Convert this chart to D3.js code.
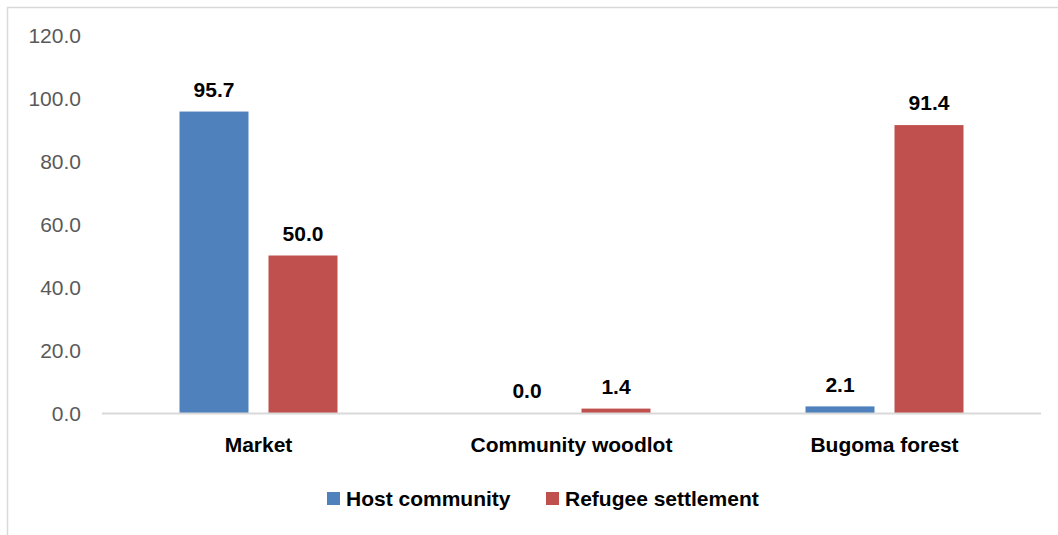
<!DOCTYPE html>
<html>
<head>
<meta charset="utf-8">
<script src="https://cdn.jsdelivr.net/npm/d3@7"></script>
<style>
  html, body { margin: 0; padding: 0; background: #fff; }
  svg { display: block; font-family: "Liberation Sans", Arial, sans-serif; }
</style>
</head>
<body>
<svg id="chart" width="1058" height="535"></svg>
<script>
// Source of fuelwood by respondent group (%)
const categories = ["Market", "Community woodlot", "Bugoma forest"];
const seriesNames = ["Host community", "Refugee settlement"];
const hostValues = [95.7, 0.0, 2.1];
const refugeeValues = [50.0, 1.4, 91.4];
const yTicks = [0, 20, 40, 60, 80, 100, 120];
const colors = ["#4F81BD", "#C0504D"];

const svg = d3.select("#chart");
const W = 1058, H = 535;

// chart frame
svg.append("rect")
  .attr("x", 7.5).attr("y", 7.5)
  .attr("width", W + 10).attr("height", H + 10)
  .attr("fill", "#fff").attr("stroke", "#d9d9d9").attr("stroke-width", 1.5);

const plot = { left: 102, right: 1041, top: 35, bottom: 413 };

const x = d3.scaleBand().domain(categories).range([plot.left, plot.right]).paddingInner(0).paddingOuter(0);
const y = d3.scaleLinear().domain([0, 120]).range([plot.bottom, plot.top]);

const barW = 69, gap = 20;
const series = [hostValues, refugeeValues];

// y axis labels
const yAxis = d3.axisLeft(y).tickValues(yTicks).tickFormat(d3.format(".1f")).tickSize(0).tickPadding(0);
const gy = svg.append("g").attr("transform", `translate(81,0)`).call(yAxis);
gy.select(".domain").remove();
gy.selectAll("text")
  .attr("fill", "#595959")
  .style("font-size", "21px")
  .attr("dy", "0.35em");

// bars
series.forEach((vals, si) => {
  const offset = si === 0 ? -(gap / 2 + barW) : gap / 2;
  svg.append("g").selectAll("rect")
    .data(vals.map((v, i) => ({ v, c: categories[i] })))
    .join("rect")
    .attr("x", d => x(d.c) + x.bandwidth() / 2 + offset)
    .attr("y", d => y(d.v))
    .attr("width", barW)
    .attr("height", d => y(0) - y(d.v))
    .attr("fill", colors[si]);

  svg.append("g").selectAll("text")
    .data(vals.map((v, i) => ({ v, c: categories[i] })))
    .join("text")
    .attr("x", d => x(d.c) + x.bandwidth() / 2 + offset + barW / 2)
    .attr("y", d => y(d.v) - 22)
    .attr("dy", "0.35em")
    .attr("text-anchor", "middle")
    .style("font-size", "21px")
    .style("font-weight", "bold")
    .attr("fill", "#000")
    .text(d => d3.format(".1f")(d.v));
});

// baseline
svg.append("line")
  .attr("x1", plot.left).attr("x2", plot.right)
  .attr("y1", y(0) + 0.5).attr("y2", y(0) + 0.5)
  .attr("stroke", "#d9d9d9").attr("stroke-width", 2);

// category labels
const xAxis = d3.axisBottom(x).tickSize(0).tickPadding(0);
const gx = svg.append("g").attr("transform", `translate(0,445)`).call(xAxis);
gx.select(".domain").remove();
gx.selectAll("text")
  .attr("dy", "0.35em")
  .attr("fill", "#000")
  .style("font-size", "21px")
  .style("font-weight", "bold");

// legend
const legendItems = [
  { name: seriesNames[0], color: colors[0], x: 327 },
  { name: seriesNames[1], color: colors[1], x: 546 }
];
const lg = svg.append("g");
legendItems.forEach(it => {
  lg.append("rect")
    .attr("x", it.x).attr("y", 492)
    .attr("width", 13).attr("height", 13)
    .attr("fill", it.color);
  lg.append("text")
    .attr("x", it.x + 19).attr("y", 498.5)
    .attr("dy", "0.35em")
    .style("font-size", "21px")
    .style("font-weight", "bold")
    .attr("fill", "#000")
    .text(it.name);
});
</script>
</body>
</html>
